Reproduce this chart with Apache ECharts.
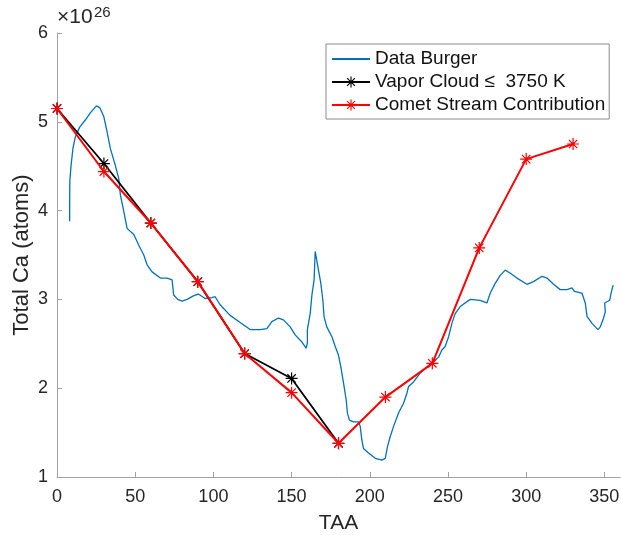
<!DOCTYPE html>
<html>
<head>
<meta charset="utf-8">
<script src="https://cdn.jsdelivr.net/npm/echarts@6/dist/echarts.min.js"></script>
<style>
  html, body { margin: 0; padding: 0; background: #fff; }
  #chart { width: 621px; height: 535px; }
</style>
</head>
<body>
<div id="chart"></div>
<script>
// Observed total Ca content versus true anomaly angle (values in units of 1e26 atoms)
const burgerTaa = [
  8.1, 8.1, 8.2, 9.0, 10.2, 11.7, 14.5, 18.1, 21.3, 25.2, 27.3, 29.9, 32.0, 34.1, 37.3, 39.5,
  40.5, 42.7, 44.8, 49.1, 52.3, 55.5, 57.6, 60.8, 66.1, 70.4, 73.6, 74.6, 77.2, 80.0, 83.2, 87.2,
  90.4, 94.7, 99.0, 101.1, 104.3, 110.7, 117.1, 123.5, 129.9, 134.2, 137.4, 141.6, 144.8, 149.1,
  152.3, 156.6, 159.3, 160.1, 160.1, 161.9, 163.0, 164.4, 165.1, 166.1, 167.2, 168.7, 170.0, 170.8,
  172.5, 175.8, 177.9, 180.0, 181.5, 183.2, 184.9, 185.7, 187.0, 189.6, 192.8, 193.9, 194.9, 196.0,
  199.2, 203.5, 207.7, 209.9, 211.3, 213.0, 215.2, 218.4, 221.6, 223.7, 224.8, 228.0, 232.2, 236.5,
  240.8, 244.0, 246.1, 248.2, 250.4, 252.5, 254.6, 257.8, 264.2, 270.6, 274.9, 277.0, 280.2, 283.4,
  286.6, 289.4, 294.1, 300.5, 304.7, 310.1, 313.3, 317.5, 321.8, 326.1, 329.3, 330.8, 335.7, 337.8,
  338.9, 342.1, 345.9, 347.4, 349.5, 350.6, 350.2, 353.4, 354.3, 355.6
];
const burgerCa = [
  3.88, 4.10, 4.33, 4.51, 4.70, 4.83, 4.94, 5.02, 5.10, 5.18, 5.16, 5.06, 4.89, 4.70, 4.51, 4.36,
  4.18, 3.99, 3.80, 3.73, 3.61, 3.50, 3.39, 3.31, 3.24, 3.24, 3.22, 3.05, 3.00, 2.98, 3.00, 3.04,
  3.06, 3.01, 3.02, 3.03, 2.94, 2.82, 2.74, 2.66, 2.66, 2.67, 2.75, 2.79, 2.77, 2.69,
  2.60, 2.52, 2.45, 2.51, 2.66, 2.84, 3.05, 3.22, 3.54, 3.54, 3.33, 3.18, 2.99, 2.80,
  2.69, 2.58, 2.47, 2.37, 2.24, 2.06, 1.87, 1.72, 1.64, 1.62, 1.62, 1.57, 1.42, 1.32,
  1.27, 1.21, 1.19, 1.21, 1.34, 1.45, 1.57, 1.72, 1.83, 1.94, 2.02, 2.07, 2.17, 2.24,
  2.30, 2.35, 2.43, 2.47, 2.58, 2.73, 2.84, 2.92, 3.00, 2.99, 2.96, 3.07, 3.18, 3.27,
  3.33, 3.30, 3.24, 3.17, 3.20, 3.26, 3.24, 3.17, 3.11, 3.11, 3.13, 3.09, 3.07, 2.96,
  2.81, 2.73, 2.66, 2.69, 2.79, 2.86, 2.96, 2.99, 3.07, 3.16
];

// Vapor cloud model (T <= 3750 K)
const vaporTaa = [0, 30, 60, 90, 120, 150, 180];
const vaporCa = [5.15, 4.53, 3.86, 3.20, 2.39, 2.11, 1.38];

// Comet stream contribution model
const cometTaa = [0, 30, 60, 90, 120, 150, 180, 210, 240, 270, 300, 330];
const cometCa = [5.15, 4.44, 3.86, 3.20, 2.39, 1.95, 1.38, 1.90, 2.28, 3.58, 4.58, 4.75];

const xTicks = [0, 50, 100, 150, 200, 250, 300, 350];
const yTicks = [1, 2, 3, 4, 5, 6];

const seriesNames = ['Data Burger', 'Vapor Cloud \u2264  3750 K', 'Comet Stream Contribution'];

// eight-armed asterisk marker built from thin bars
const asterisk = 'path://M45 0L55 0L55 100L45 100Z M0 45L100 45L100 55L0 55Z ' +
  'M11.5 18.5L18.5 11.5L88.5 81.5L81.5 88.5Z M81.5 11.5L88.5 18.5L18.5 88.5L11.5 81.5Z';

const pairs = (xs, ys) => xs.map((x, i) => [x, ys[i]]);

const axisGrey = '#a3a3a3';
const textDark = '#262626';
const font = '"Liberation Sans", Arial, Helvetica, sans-serif';

const chart = echarts.init(document.getElementById('chart'), null, { renderer: 'canvas' });

chart.setOption({
  animation: false,
  backgroundColor: '#ffffff',
  textStyle: { fontFamily: font },
  grid: { left: 57, right: 1, top: 33, bottom: 58, containLabel: false, outerBoundsMode: 'none' },
  legend: {
    show: true,
    orient: 'vertical',
    left: 326,
    top: 44,
    padding: [5.5, 4, 4.5, 5],
    itemWidth: 38,
    itemHeight: 14,
    itemGap: 4,
    backgroundColor: '#ffffff',
    borderColor: '#8a8a8a',
    borderWidth: 1,
    borderRadius: 0,
    textStyle: { fontSize: 19, color: '#111111', fontFamily: font },
    data: seriesNames
  },
  xAxis: {
    type: 'value',
    min: 0,
    max: 360,
    name: 'TAA',
    nameLocation: 'middle',
    nameGap: 36,
    nameMoveOverlap: false,
    nameTextStyle: { fontSize: 21, color: textDark, fontFamily: font },
    axisLine: { show: true, onZero: false, lineStyle: { color: axisGrey, width: 1 } },
    axisTick: { show: true, inside: true, length: 5, customValues: xTicks, lineStyle: { color: axisGrey } },
    axisLabel: { show: true, customValues: xTicks, margin: 11, fontSize: 18, color: textDark, fontFamily: font },
    splitLine: { show: false }
  },
  yAxis: {
    type: 'value',
    min: 1,
    max: 6,
    interval: 1,
    name: 'Total Ca (atoms)',
    nameLocation: 'middle',
    nameGap: 24,
    nameMoveOverlap: false,
    nameTextStyle: { fontSize: 22, color: textDark, fontFamily: font },
    axisLine: { show: true, onZero: false, lineStyle: { color: axisGrey, width: 1 } },
    axisTick: { show: true, inside: true, length: 5, customValues: yTicks, lineStyle: { color: axisGrey } },
    axisLabel: { show: true, customValues: yTicks, margin: 9, fontSize: 18, color: textDark, fontFamily: font },
    splitLine: { show: false }
  },
  graphic: [
    {
      type: 'text',
      left: 57,
      top: 7,
      style: { text: '\u00d710', fontSize: 21, fill: textDark, fontFamily: font }
    },
    {
      type: 'text',
      left: 94,
      top: 5,
      style: { text: '26', fontSize: 15, fill: textDark, fontFamily: font }
    }
  ],
  series: [
    {
      name: seriesNames[0],
      type: 'line',
      data: pairs(burgerTaa, burgerCa),
      symbol: 'circle',
      showSymbol: false,
      lineStyle: { color: '#0072BD', width: 1.3 },
      itemStyle: { color: 'rgba(0,0,0,0)' },
      z: 2
    },
    {
      name: seriesNames[1],
      type: 'line',
      data: pairs(vaporTaa, vaporCa),
      symbol: asterisk,
      symbolSize: 12,
      showSymbol: true,
      lineStyle: { color: '#000000', width: 1.8 },
      itemStyle: { color: '#000000' },
      z: 3
    },
    {
      name: seriesNames[2],
      type: 'line',
      data: pairs(cometTaa, cometCa),
      symbol: asterisk,
      symbolSize: 12,
      showSymbol: true,
      lineStyle: { color: '#ff0000', width: 2 },
      itemStyle: { color: '#ff0000' },
      z: 4
    }
  ]
});
</script>
</body>
</html>
